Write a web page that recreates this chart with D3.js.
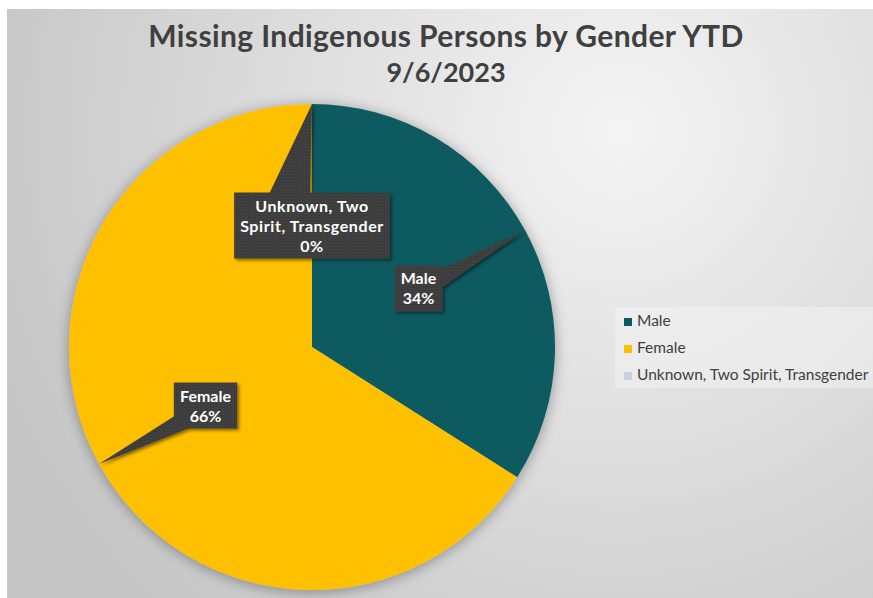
<!DOCTYPE html>
<html>
<head>
<meta charset="utf-8">
<script src="https://cdn.jsdelivr.net/npm/d3@7"></script>
<style>
  body { margin: 0; background: #fff; }
  svg { display: block; }
</style>
</head>
<body>
<svg id="chart" width="873" height="598"></svg>
<script>
// data
var categories = ["Male", "Female", "Unknown, Two Spirit, Transgender"];
var labelLines = [["Male"], ["Female"], ["Unknown, Two", "Spirit, Transgender"]];
var shares = [34, 66, 0];
var colors = ["#0b5a61", "#ffc000", "#d0cfe0"];
var titleLines = ["Missing Indigenous Persons by Gender YTD", "9/6/2023"];

var W = 873, H = 598;
var frame = {x: 7, y: 9, w: 866, h: 589};
var cx = 312, cy = 347, radius = 243;
var font = "Lato, 'Open Sans', sans-serif";
// where the callout pointer leaves its box, relative to the box centre
var wedgeShift = [[0, 3], [0, 4], [-29, 0]];

var svg = d3.select("#chart");
var defs = svg.append("defs");

var bg = defs.append("radialGradient")
    .attr("id", "bg")
    .attr("gradientUnits", "userSpaceOnUse")
    .attr("cx", 620).attr("cy", 130).attr("r", 660);
bg.append("stop").attr("offset", "0%").attr("stop-color", "#f4f4f4");
bg.append("stop").attr("offset", "100%").attr("stop-color", "#c6c6c6");

var pieShadow = defs.append("filter").attr("id", "pieShadow")
    .attr("x", "-20%").attr("y", "-20%").attr("width", "140%").attr("height", "140%");
pieShadow.append("feDropShadow")
    .attr("dx", 0).attr("dy", 2).attr("stdDeviation", 7)
    .attr("flood-color", "#000").attr("flood-opacity", 0.35);

var boxShadow = defs.append("filter").attr("id", "boxShadow")
    .attr("x", "-30%").attr("y", "-30%").attr("width", "160%").attr("height", "160%");
boxShadow.append("feDropShadow")
    .attr("dx", 2).attr("dy", 2).attr("stdDeviation", 1.5)
    .attr("flood-color", "#000").attr("flood-opacity", 0.45);

var dots = defs.append("pattern").attr("id", "dots")
    .attr("width", 3).attr("height", 3).attr("patternUnits", "userSpaceOnUse");
dots.append("rect").attr("width", 3).attr("height", 3).attr("fill", "#3d3d3d");
dots.append("circle").attr("cx", 1.5).attr("cy", 1.5).attr("r", 0.6).attr("fill", "#4b4b4b");

// chart area
svg.append("rect")
    .attr("x", frame.x).attr("y", frame.y)
    .attr("width", frame.w).attr("height", frame.h)
    .attr("fill", "url(#bg)");

// title
var title = svg.append("text")
    .attr("text-anchor", "middle")
    .attr("font-family", font)
    .attr("font-weight", "bold")
    .attr("fill", "#404040");
titleLines.forEach(function (t, i) {
  title.append("tspan")
      .attr("x", 446)
      .attr("y", 47 + i * 35)
      .attr("font-size", i === 0 ? 30 : 27)
      .attr("letter-spacing", i === 0 ? 0.4 : 0)
      .text(t);
});

// pie
var pie = d3.pie().sort(null).value(function (d) { return d; });
var arcs = pie(shares);
var arc = d3.arc().innerRadius(0).outerRadius(radius);
var edgeArc = d3.arc().innerRadius(radius).outerRadius(radius);

var g = svg.append("g").attr("transform", "translate(" + cx + "," + cy + ")");
g.append("g").attr("filter", "url(#pieShadow)")
  .selectAll("path")
  .data(arcs)
  .enter().append("path")
    .attr("d", arc)
    .attr("fill", function (d, i) { return colors[i]; });

// callouts
arcs.forEach(function (d, i) {
  var c = arc.centroid(d);
  var tip = edgeArc.centroid(d);
  var pct = Math.round(d.data / d3.sum(shares) * 100) + "%";
  var lines = labelLines[i].concat([pct]);

  var cg = g.append("g");
  var shapes = cg.append("g").attr("filter", "url(#boxShadow)");
  var txt = cg.append("text")
      .attr("text-anchor", "middle")
      .attr("font-family", font)
      .attr("font-weight", "bold")
      .attr("font-size", 16)
      .attr("fill", "#fff");
  var lh = 20;
  lines.forEach(function (l, k) {
    txt.append("tspan")
        .attr("x", c[0])
        .attr("y", c[1] - (lines.length - 1) * lh / 2 + k * lh + 6)
        .attr("letter-spacing", lines.length > 2 ? 0.6 : 0)
        .text(l);
  });
  var bw = txt.node().getBBox().width + 12;
  var bh = lines.length * lh + 6;

  var bx = c[0] + wedgeShift[i][0], by = c[1] + wedgeShift[i][1];
  var dx = tip[0] - bx, dy = tip[1] - by;
  var len = Math.sqrt(dx * dx + dy * dy);
  var ux = dx / len, uy = dy / len;
  var px = -uy, py = ux;
  var hb = 0.16 * (Math.abs(px) * bw + Math.abs(py) * bh);
  shapes.append("path")
      .attr("d", "M" + (bx + px * hb) + "," + (by + py * hb) +
                 "L" + tip[0] + "," + tip[1] +
                 "L" + (bx - px * hb) + "," + (by - py * hb) + "Z")
      .attr("fill", "url(#dots)");
  shapes.append("rect")
      .attr("x", c[0] - bw / 2).attr("y", c[1] - bh / 2)
      .attr("width", bw).attr("height", bh)
      .attr("fill", "url(#dots)");
});

// legend
var legend = svg.append("g").attr("transform", "translate(615,307)");
legend.append("rect")
    .attr("width", 258).attr("height", 81)
    .attr("fill", "#f2f2f2").attr("fill-opacity", 0.55);
var item = legend.selectAll(".item")
    .data(categories)
    .enter().append("g")
    .attr("class", "item")
    .attr("transform", function (d, i) { return "translate(9," + (14 + i * 27) + ")"; });
item.append("rect")
    .attr("x", 0).attr("y", -3).attr("width", 8).attr("height", 8)
    .attr("fill", function (d, i) { return colors[i]; });
item.append("text")
    .attr("x", 13).attr("y", 5)
    .attr("font-family", font)
    .attr("font-size", 15.5)
    .attr("fill", "#404040")
    .text(function (d) { return d; });
</script>
</body>
</html>
